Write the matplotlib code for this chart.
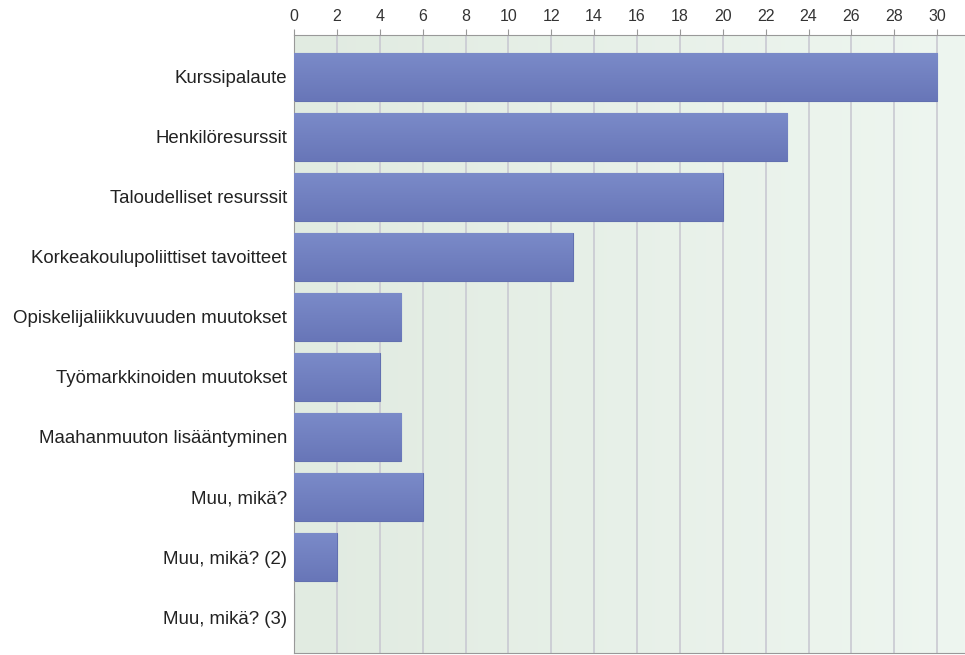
import numpy as np
import matplotlib.pyplot as plt
from matplotlib.colors import LinearSegmentedColormap

plt.rcParams['font.family'] = ['Liberation Sans', 'DejaVu Sans']

categories = [
    "Kurssipalaute",
    "Henkilöresurssit",
    "Taloudelliset resurssit",
    "Korkeakoulupoliittiset tavoitteet",
    "Opiskelijaliikkuvuuden muutokset",
    "Työmarkkinoiden muutokset",
    "Maahanmuuton lisääntyminen",
    "Muu, mikä?",
    "Muu, mikä? (2)",
    "Muu, mikä? (3)",
]
values = [30, 23, 20, 13, 5, 4, 5, 6, 2, 0]
ticks = list(range(0, 31, 2))

fig = plt.figure(figsize=(9.65, 6.55), dpi=100)
ax = fig.add_axes([0.3047, 0.003, 0.6953, 0.9437])

xmax = 31.3
ymin, ymax = 9.6, -0.7
ax.set_xlim(0, xmax)
ax.set_ylim(ymin, ymax)

# light green background gradient
bg_cmap = LinearSegmentedColormap.from_list("bg", ["#e1ebe1", "#eef6f0"])
grad = np.linspace(0, 1, 256).reshape(1, -1)
ax.imshow(grad, cmap=bg_cmap, extent=(0, xmax, ymin, ymax), aspect="auto", zorder=0)

for t in ticks:
    ax.axvline(t, color="#c9c9d2", lw=1.2, zorder=1)

# bars with a vertical blue gradient
bar_cmap = LinearSegmentedColormap.from_list("bar", ["#7b8bc9", "#6876b8"])
vgrad = np.linspace(0, 1, 128).reshape(-1, 1)
y = np.arange(len(categories))
bars = ax.barh(y, values, height=0.8, color="#7180c0", edgecolor="#6270b0", lw=0.8, zorder=2)
for b, v in zip(bars, values):
    if v <= 0:
        continue
    x0, y0 = b.get_x(), b.get_y()
    w, h = b.get_width(), b.get_height()
    im = ax.imshow(vgrad, cmap=bar_cmap, extent=(x0, x0 + w, y0 + h, y0),
                   aspect="auto", zorder=3)
    im.set_clip_path(b)

ax.set_yticks(y)
ax.set_yticklabels(categories, fontsize=13.4, color="#222222")
ax.set_xticks(ticks)
ax.xaxis.tick_top()
ax.tick_params(axis="x", top=True, bottom=False, labeltop=True, labelbottom=False,
               length=4, color="#999999", labelsize=11.5, labelcolor="#333333", pad=4)
ax.tick_params(axis="y", length=0, pad=5)

ax.spines["right"].set_visible(False)
ax.spines["left"].set_color("#999999")
ax.spines["top"].set_color("#999999")
ax.spines["bottom"].set_color("#999999")

fig.savefig("out.png", dpi=100)
